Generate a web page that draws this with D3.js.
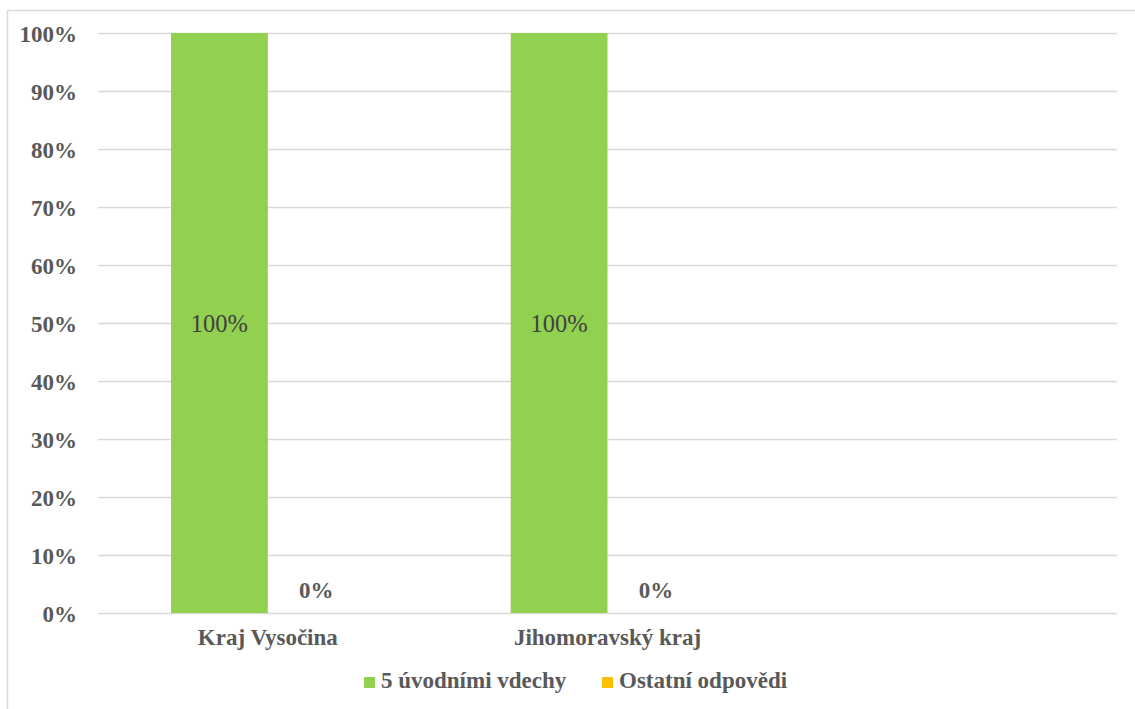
<!DOCTYPE html>
<html><head><meta charset="utf-8">
<script src="https://cdn.jsdelivr.net/npm/d3@7"></script>
<style>body{margin:0;background:#fff}svg{display:block}</style>
</head><body><svg id="c" width="1135" height="709"></svg>
<script>
const categories = ["Kraj Vysočina", "Jihomoravský kraj", ""];
const seriesNames = ["5 úvodními vdechy", "Ostatní odpovědi"];
const seriesColors = ["#92d050", "#ffc000"];
const values5 = [1, 1, null];
const valuesOther = [0, 0, null];
const yTicks = [0, 0.1, 0.2, 0.3, 0.4, 0.5, 0.6, 0.7, 0.8, 0.9, 1];

(function () {
const svg = d3.select("#c");
const font = "'Liberation Serif','Times New Roman',serif";
const pLeft = 98, pRight = 1117, pTop = 33, pBottom = 613;

// frame
svg.append("rect").attr("x", 7.5).attr("y", 10.5).attr("width", 1140).attr("height", 720)
  .attr("fill", "none").attr("stroke", "#d9d9d9").attr("stroke-width", 1.5);

const x0 = d3.scaleBand().domain(categories).range([pLeft, pRight]).paddingInner(0.43).paddingOuter(0.215);
const x1 = d3.scaleBand().domain(seriesNames).range([0, x0.bandwidth()]);
const y = d3.scaleLinear().domain([0, 1]).range([pBottom, pTop]);

// gridlines
const yAxis = d3.axisLeft(y).tickValues(yTicks).tickFormat(d3.format(".0%")).tickSize(-(pRight - pLeft)).tickPadding(21);
const gy = svg.append("g").attr("transform", `translate(${pLeft},0)`).call(yAxis);
gy.select(".domain").remove();
gy.selectAll(".tick line").attr("stroke", "#d9d9d9").attr("stroke-width", 1.3);
gy.selectAll(".tick text").attr("fill", "#595959").attr("font-family", font)
  .attr("font-size", 23).attr("font-weight", "bold").attr("dy", "0.35em");

const data = categories.map((c, i) => ({cat: c, vals: [values5[i], valuesOther[i]]}));

const groups = svg.append("g").selectAll("g").data(data).join("g")
  .attr("transform", d => `translate(${x0(d.cat)},0)`);

groups.selectAll("rect").data(d => d.vals.map((v, j) => ({v, j})).filter(e => e.v !== null))
  .join("rect")
  .attr("x", e => x1(seriesNames[e.j]))
  .attr("width", x1.bandwidth())
  .attr("y", e => y(e.v))
  .attr("height", e => y(0) - y(e.v))
  .attr("fill", e => seriesColors[e.j]);

groups.selectAll("text.lbl").data(d => d.vals.map((v, j) => ({v, j})).filter(e => e.v !== null))
  .join("text").attr("class", "lbl")
  .attr("x", e => x1(seriesNames[e.j]) + x1.bandwidth() / 2)
  .attr("y", e => e.v > 0 ? y(e.v / 2) : y(0) - 15)
  .attr("dy", e => e.v > 0 ? "0.35em" : 0)
  .attr("text-anchor", "middle")
  .attr("font-family", font).attr("font-size", e => e.v > 0 ? 24.5 : 23)
  .attr("font-weight", e => e.v > 0 ? "normal" : "bold")
  .attr("fill", e => e.v > 0 ? "#404040" : "#595959")
  .text(e => d3.format(".0%")(e.v));

// category axis
const xAxis = d3.axisBottom(x0).tickSize(0).tickPadding(0);
const gx = svg.append("g").attr("transform", `translate(0,${pBottom})`).call(xAxis);
gx.select(".domain").remove();
gx.selectAll(".tick text").attr("fill", "#595959").attr("font-family", font)
  .attr("font-size", 23).attr("font-weight", "bold").attr("y", 32).attr("dy", 0);

// legend
const legX = [364, 602];
const leg = svg.append("g").selectAll("g").data(seriesNames).join("g")
  .attr("transform", (d, i) => `translate(${legX[i]},0)`);
leg.append("rect").attr("x", 0).attr("y", 677).attr("width", 11).attr("height", 11)
  .attr("fill", (d, i) => seriesColors[i]);
leg.append("text").attr("x", 17).attr("y", 688).attr("fill", "#595959")
  .attr("font-family", font).attr("font-size", 23).attr("font-weight", "bold").text(d => d);
})();
</script></body></html>
